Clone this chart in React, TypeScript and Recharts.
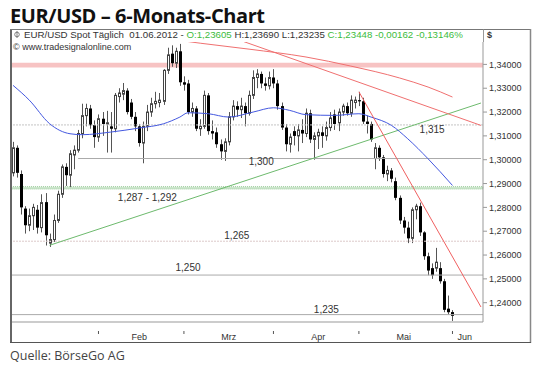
import React from 'react';
import { ComposedChart, Bar, Line, XAxis, YAxis, ReferenceLine, ReferenceArea, ReferenceDot } from 'recharts';

// daily candles, 03.01.2012 .. 01.06.2012 (index = trading day)
const opens = [
  1.2945, 1.3050, 1.2940, 1.2795, 1.2725, 1.2765, 1.2790, 1.2715, 1.2822, 1.2650,
  1.2665, 1.2745, 1.2855, 1.2970, 1.2935, 1.3020, 1.3040, 1.3110, 1.3185, 1.3215,
  1.3145, 1.3095, 1.3172, 1.3150, 1.3140, 1.3130, 1.3265, 1.3275, 1.3290, 1.3240,
  1.3180, 1.3140, 1.3070, 1.3140, 1.3200, 1.3235, 1.3240, 1.3245, 1.3375, 1.3445,
  1.3405, 1.3455, 1.3325, 1.3320, 1.3200, 1.3215, 1.3130, 1.3140, 1.3270, 1.3120,
  1.3115, 1.3065, 1.3035, 1.3075, 1.3180, 1.3225, 1.3210, 1.3225, 1.3195, 1.3270,
  1.3345, 1.3360, 1.3320, 1.3310, 1.3345, 1.3320, 1.3225, 1.3135, 1.3065, 1.3120,
  1.3100, 1.3125, 1.3110, 1.3195, 1.3085, 1.3100, 1.3115, 1.3100, 1.3135, 1.3190,
  1.3155, 1.3200, 1.3225, 1.3195, 1.3240, 1.3250, 1.3245, 1.3160, 1.3150, 1.3005,
  1.3050, 1.3010, 1.2940, 1.2955, 1.2910, 1.2840, 1.2745, 1.2715, 1.2670, 1.2790,
  1.2805, 1.2695, 1.2595, 1.2545, 1.2545, 1.2545, 1.2490, 1.2375, 1.23605,
];
const highs = [
  1.3075, 1.3060, 1.2955, 1.2805, 1.2795, 1.2815, 1.2810, 1.2855, 1.2860, 1.2690,
  1.2770, 1.2870, 1.2980, 1.2985, 1.3040, 1.3060, 1.3125, 1.3235, 1.3235, 1.3230,
  1.3165, 1.3190, 1.3200, 1.3205, 1.3200, 1.3280, 1.3300, 1.3322, 1.3300, 1.3255,
  1.3200, 1.3150, 1.3160, 1.3230, 1.3260, 1.3285, 1.3280, 1.3380, 1.3470, 1.3480,
  1.3470, 1.3486, 1.3350, 1.3335, 1.3240, 1.3225, 1.3170, 1.3290, 1.3280, 1.3165,
  1.3135, 1.3085, 1.3090, 1.3200, 1.3250, 1.3245, 1.3260, 1.3240, 1.3290, 1.3375,
  1.3380, 1.3370, 1.3345, 1.3370, 1.3380, 1.3335, 1.3240, 1.3150, 1.3110, 1.3140,
  1.3150, 1.3170, 1.3215, 1.3210, 1.3115, 1.3130, 1.3140, 1.3160, 1.3200, 1.3210,
  1.3215, 1.3235, 1.3240, 1.3270, 1.3265, 1.3285, 1.3260, 1.3185, 1.3160, 1.3070,
  1.3060, 1.3020, 1.2975, 1.2965, 1.2925, 1.2850, 1.2760, 1.2740, 1.2800, 1.2815,
  1.2820, 1.2700, 1.2610, 1.2565, 1.2630, 1.2570, 1.2500, 1.2430, 1.23690,
];
const lows = [
  1.2930, 1.2925, 1.2770, 1.2690, 1.2700, 1.2705, 1.2690, 1.2695, 1.2640, 1.2634,
  1.2655, 1.2735, 1.2840, 1.2890, 1.2885, 1.2960, 1.3030, 1.3090, 1.3140, 1.3130,
  1.3050, 1.3075, 1.3100, 1.3030, 1.3030, 1.3115, 1.3240, 1.3250, 1.3190, 1.3170,
  1.3120, 1.3055, 1.2985, 1.3120, 1.3180, 1.3215, 1.3220, 1.3230, 1.3360, 1.3390,
  1.3385, 1.3310, 1.3290, 1.3190, 1.3180, 1.3120, 1.3100, 1.3130, 1.3105, 1.3085,
  1.3050, 1.3000, 1.2995, 1.3060, 1.3165, 1.3180, 1.3175, 1.3140, 1.3185, 1.3255,
  1.3300, 1.3300, 1.3290, 1.3295, 1.3300, 1.3210, 1.3125, 1.3035, 1.3030, 1.3060,
  1.3035, 1.3070, 1.3095, 1.3070, 1.3000, 1.3045, 1.3050, 1.3080, 1.3120, 1.3125,
  1.3120, 1.3185, 1.3185, 1.3180, 1.3215, 1.3225, 1.3150, 1.3110, 1.3075, 1.2960,
  1.2995, 1.2925, 1.2910, 1.2905, 1.2830, 1.2730, 1.2690, 1.2650, 1.2650, 1.2750,
  1.2680, 1.2580, 1.2515, 1.2500, 1.2530, 1.2480, 1.2360, 1.2350, 1.23235,
];
const closes = [
  1.3050, 1.2945, 1.2800, 1.2725, 1.2765, 1.2800, 1.2715, 1.2820, 1.2683, 1.2665,
  1.2745, 1.2855, 1.2970, 1.2935, 1.3025, 1.3040, 1.3110, 1.3185, 1.3215, 1.3145,
  1.3095, 1.3172, 1.3150, 1.3155, 1.3130, 1.3270, 1.3280, 1.3290, 1.3200, 1.3180,
  1.3140, 1.3070, 1.3140, 1.3200, 1.3235, 1.3245, 1.3250, 1.3375, 1.3440, 1.3405,
  1.3455, 1.3325, 1.3315, 1.3200, 1.3215, 1.3130, 1.3140, 1.3270, 1.3120, 1.3110,
  1.3065, 1.3035, 1.3075, 1.3180, 1.3225, 1.3210, 1.3225, 1.3195, 1.3270, 1.3345,
  1.3360, 1.3320, 1.3310, 1.3345, 1.3320, 1.3225, 1.3135, 1.3065, 1.3095, 1.3100,
  1.3125, 1.3110, 1.3195, 1.3085, 1.3100, 1.3115, 1.3100, 1.3135, 1.3175, 1.3150,
  1.3200, 1.3225, 1.3195, 1.3250, 1.3250, 1.3245, 1.3160, 1.3150, 1.3085, 1.3050,
  1.3010, 1.2940, 1.2955, 1.2920, 1.2840, 1.2745, 1.2715, 1.2670, 1.2790, 1.2805,
  1.2695, 1.2595, 1.2535, 1.2515, 1.2570, 1.2490, 1.2370, 1.2360, 1.23448,
];

const maDays = [0, 4, 9, 14, 17, 24, 31, 37, 41, 43, 48, 53, 59, 64, 68, 72, 79, 85, 88, 93, 97, 102, 108];
const maValues = [1.3312, 1.3250, 1.3151, 1.3109, 1.3105, 1.3116, 1.3133, 1.3151, 1.3179, 1.3197, 1.3193, 1.3179, 1.3200, 1.3218, 1.3207, 1.3189, 1.3186, 1.3193, 1.3179, 1.3144, 1.3088, 1.3004, 1.2892];
const longMaDays = [36, 46, 58, 72, 83, 95, 102, 108];
const longMaValues = [1.3512, 1.3489, 1.3464, 1.3431, 1.3393, 1.3343, 1.3305, 1.3263];

// trend lines
const supportDays = [9, 115];
const supportValues = [1.2641, 1.3238];
const resistDays = [55, 115];
const resistValues = [1.3506, 1.3144];
const steepDays = [85, 115];
const steepValues = [1.3285, 1.2382];

const TOTAL_SLOTS = 116;
const monthStartIdx = [21, 42, 64, 85, 108];
const monthLabelIdx = [31, 53, 75, 96, 111];
const monthLabels = ['Feb', 'Mrz', 'Apr', 'Mai', 'Jun'];
const yTicks = [1.24, 1.25, 1.26, 1.27, 1.28, 1.29, 1.3, 1.31, 1.32, 1.33, 1.34];

const levelText = ['1,315', '1,300', '1,287 - 1,292', '1,265', '1,250', '1,235'];
const levelLabelDay = [103, 61, 33, 55, 43, 77];
const levelLabelValue = [1.3129, 1.2993, 1.2840, 1.2683, 1.2546, 1.2372];

const data = Array.from({ length: TOTAL_SLOTS }, (_, i) => {
  const row: any = { i };
  if (i < opens.length) {
    row.range = [lows[i], highs[i]];
    row.open = opens[i];
    row.close = closes[i];
    row.high = highs[i];
    row.low = lows[i];
  }
  const put = (days: number[], vals: number[], key: string) => {
    const k = days.indexOf(i);
    if (k >= 0) row[key] = vals[k];
  };
  put(maDays, maValues, 'ma');
  put(longMaDays, longMaValues, 'ma2');
  put(supportDays, supportValues, 'sup');
  put(resistDays, resistValues, 'res');
  put(steepDays, steepValues, 'steep');
  return row;
});

const Candle = (props: any) => {
  const { x, y, width, height, payload } = props;
  if (!payload || payload.open == null) return null;
  const { open, close, high, low } = payload;
  const top = Math.min(y, y + height);
  const bot = Math.max(y, y + height);
  const span = high - low;
  const ppu = span > 0 ? (bot - top) / span : 0;
  const py = (v: number) => top + (high - v) * ppu;
  const cx = Math.round(x + width / 2) + 0.5;
  const bTop = py(Math.max(open, close));
  const bBot = py(Math.min(open, close));
  const h = Math.max(bBot - bTop, 1);
  const up = close >= open;
  return (
    <g>
      <line x1={cx} x2={cx} y1={top} y2={bot} stroke="#555" strokeWidth={1} />
      {up ? (
        <rect x={cx - 1} y={bTop} width={2} height={h} fill="#fff" stroke="#444" strokeWidth={1} />
      ) : (
        <rect x={cx - 1.5} y={bTop} width={3} height={h} fill="#000" />
      )}
    </g>
  );
};

const XTick = (props: any) => {
  const { x, y, payload } = props;
  const v = payload.value;
  const si = monthStartIdx.indexOf(v);
  const li = monthLabelIdx.indexOf(v);
  return (
    <g>
      {si >= 0 && <line x1={x} x2={x} y1={y + 9} y2={y + 12} stroke="#555" />}
      {li >= 0 && (
        <text x={x} y={y + 18} textAnchor="middle" fontSize={9} fill="#333" fontFamily="Liberation Sans">
          {monthLabels[li]}
        </text>
      )}
    </g>
  );
};

const fmt = (v: number) => v.toFixed(5).replace('.', ',');
const lab = { fontSize: 10, fill: '#333', fontFamily: 'Liberation Sans' };

export default function App() {
  return (
    <div style={{ position: 'absolute', left: 0, top: 0, width: 540, height: 367, background: '#fff', overflow: 'hidden' }}>
      <div style={{ position: 'absolute', left: 0, top: 0 }}>
        <ComposedChart width={540} height={367} data={data} margin={{ top: 42, right: 9, bottom: 25, left: 11 }} barCategoryGap={0}>
          <XAxis
            dataKey="i"
            type="category"
            ticks={[...monthStartIdx, ...monthLabelIdx]}
            interval={0}
            tickLine={false}
            tickSize={0}
            tickMargin={0}
            height={20}
            stroke="#999"
            tick={(p: any) => <XTick {...p} />}
          />
          <YAxis
            orientation="right"
            type="number"
            domain={[1.2319, 1.3494]}
            allowDataOverflow
            ticks={yTicks}
            interval={0}
            tickFormatter={fmt}
            tick={{ fontSize: 9, fill: '#333', fontFamily: 'Liberation Sans' }}
            tickSize={4}
            tickMargin={2}
            stroke="#999"
            width={48}
          />
          <ReferenceArea y1={1.3387} y2={1.3407} fill="#f7c3c3" fillOpacity={1} stroke="none" />
          <ReferenceArea y1={1.2877} y2={1.2887} fill="#cfe7cf" fillOpacity={1} stroke="#9cce9c" strokeDasharray="1 1" />
          <ReferenceLine y={1.3146} stroke="#c4c4c4" strokeDasharray="2 1" />
          <ReferenceLine segment={[{ x: 16, y: 1.3005 }, { x: 115, y: 1.3005 }]} stroke="#aaa" />
          <ReferenceLine y={1.2658} stroke="#dccaca" strokeDasharray="2 1" />
          <ReferenceLine y={1.2516} stroke="#aaa" />
          <ReferenceLine y={1.235} stroke="#aaa" />
          {levelText.map((t, k) => (
            <ReferenceDot key={t} x={levelLabelDay[k]} y={levelLabelValue[k]} r={0.01} fill="none" stroke="none"
              label={{ value: t, position: 'center', ...lab }} />
          ))}
          <Line dataKey="sup" stroke="#6dba6d" strokeWidth={1} dot={false} connectNulls type="linear" isAnimationActive={false} />
          <Line dataKey="res" stroke="#f07070" strokeWidth={1} dot={false} connectNulls type="linear" isAnimationActive={false} />
          <Line dataKey="ma2" stroke="#f07070" strokeWidth={1} dot={false} connectNulls type="monotone" isAnimationActive={false} />
          <Line dataKey="ma" stroke="#4458e0" strokeWidth={1} dot={false} connectNulls type="monotone" isAnimationActive={false} />
          <Bar dataKey="range" shape={(p: any) => <Candle {...p} />} isAnimationActive={false} />
          <Line dataKey="steep" stroke="#f06060" strokeWidth={1} dot={false} connectNulls type="linear" isAnimationActive={false} />
        </ComposedChart>
      </div>
      <svg width={540} height={367} style={{ position: 'absolute', left: 0, top: 0, pointerEvents: 'none' }}>
        <text x={10} y={23} fontSize={20} fontWeight={700} letterSpacing={-0.4} fontFamily="Open Sans" fill="#111">EUR/USD – 6-Monats-Chart</text>
        <rect x={10} y={29} width={2} height={314} fill="#666" />
        <line x1={10} x2={531} y1={29.5} y2={29.5} stroke="#777" />
        <line x1={530.5} x2={530.5} y1={29} y2={343} stroke="#888" strokeWidth={1.5} />
        <line x1={10} x2={531} y1={342.5} y2={342.5} stroke="#555" />
        <line x1={483.5} x2={483.5} y1={29.5} y2={42} stroke="#999" />
        <circle cx={17} cy={34.5} r={2.3} fill="none" stroke="#666" strokeWidth={0.8} />
        <line x1={17} x2={17} y1={31} y2={38} stroke="#666" strokeWidth={0.8} />
        <text x={24} y={38} fontSize={9.7} fontFamily="Liberation Sans" fill="#333" style={{ whiteSpace: 'pre' }}>
          <tspan>{'EUR/USD Spot Täglich  01.06.2012 - '}</tspan>
          <tspan fill="#3cbc3c">{'O:1,23605'}</tspan>
          <tspan>{' H:1,23690 L:1,23235 '}</tspan>
          <tspan fill="#3cbc3c">{'C:1,23448 -0,00162 -0,13146%'}</tspan>
        </text>
        <text x={487} y={38} fontSize={9} fontWeight={700} fontFamily="Liberation Sans" fill="#333">$</text>
        <text x={13} y={50} fontSize={9} fontFamily="Liberation Sans" fill="#333">© www.tradesignalonline.com</text>
        <text x={10} y={360} fontSize={12.5} fontFamily="Open Sans" fill="#444">Quelle: BörseGo AG</text>
      </svg>
    </div>
  );
}
